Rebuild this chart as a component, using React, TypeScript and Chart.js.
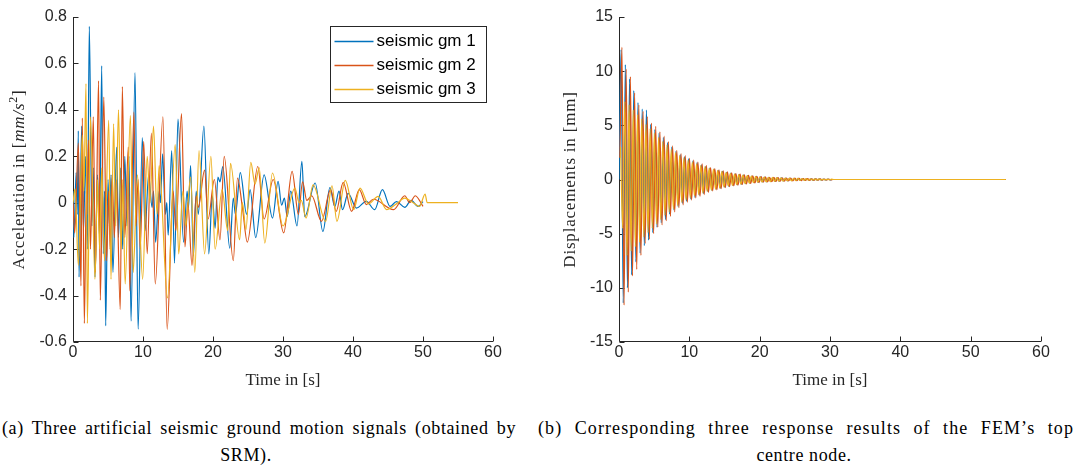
import React, { useEffect, useRef } from 'react';
import { Chart, registerables } from 'chart.js';

Chart.register(...registerables);

// ---------- data ----------
const seriesNames = ['seismic gm 1', 'seismic gm 2', 'seismic gm 3'];
const seriesColors = ['#0072BD', '#D95319', '#EDB120'];

const timeTicks = [0, 10, 20, 30, 40, 50, 60];
const timeTickLabels = ['0', '10', '20', '30', '40', '50', '60'];
const accTicks = [-0.6, -0.4, -0.2, 0, 0.2, 0.4, 0.6, 0.8];
const accTickLabels = ['-0.6', '-0.4', '-0.2', '0', '0.2', '0.4', '0.6', '0.8'];
const dispTicks = [-15, -10, -5, 0, 5, 10, 15];
const dispTickLabels = ['-15', '-10', '-5', '0', '5', '10', '15'];

// ground motion signals [time s, acceleration]
const gm1: [number, number][] = [
  [0, 0.05], [0.12, -0.15], [0.45, 0.13], [0.6, -0.05], [0.76, 0.31], [0.86, -0.32], [1.24, 0.33], [1.5, -0.12],
  [1.8, 0.2], [2.05, -0.2], [2.33, 0.76], [2.7, -0.1], [2.9, 0.15], [3.14, -0.32], [3.5, 0.12], [3.8, -0.15],
  [4.1, 0.59], [4.33, -0.22], [4.5, 0.05], [4.67, -0.53], [5.0, 0.1], [5.2, -0.1], [5.43, 0.12], [5.7, -0.3],
  [6.24, 0.24], [6.5, -0.15], [6.8, 0.15], [7.1, -0.2], [7.4, 0.2], [7.7, -0.1], [8.0, 0.2], [8.29, -0.51],
  [8.86, 0.56], [9.3, -0.545], [9.9, 0.28], [10.3, -0.12], [10.8, 0.12], [11.3, -0.02], [11.5, 0.05], [11.8, -0.17],
  [12.3, 0.05], [12.5, 0.0], [12.8, 0.21], [13.2, -0.05], [13.4, 0.0], [13.6, -0.14], [14.1, 0.225], [14.5, -0.26],
  [15.0, 0.36], [15.8, -0.17], [16.3, 0.05], [16.5, -0.02], [16.8, 0.16], [17.2, -0.23], [17.6, 0.05], [17.9, -0.05],
  [18.7, 0.33], [19.4, -0.22], [19.9, 0.03], [20.3, -0.11], [20.7, 0.11], [21.0, 0.09], [21.4, 0.156], [22.4, -0.196],
  [22.9, 0.02], [23.2, -0.05], [23.9, 0.13], [24.8, -0.05], [25.3, 0.056], [26.1, -0.15], [27.3, 0.12], [28.5, -0.066],
  [29.3, 0.092], [29.8, -0.01], [30.2, 0.02], [30.6, -0.06], [31.1, 0.05], [32.0, -0.1], [32.7, 0.178], [33.1, -0.06],
  [34.6, 0.085], [35.7, -0.124], [36.7, 0.065], [37.4, -0.016], [38.0, 0.05], [38.5, -0.03], [39.3, 0.04], [40.5, -0.023],
  [41.9, 0.006], [43.1, -0.03], [44.2, 0.056], [45.3, -0.016], [46.2, 0.005], [47.4, -0.02], [48.3, 0.01], [49.3, -0.016],
  [50.0, 0.005],
];

const gm2: [number, number][] = [
  [0, 0.0], [0.25, -0.13], [0.76, 0.257], [1.14, -0.358], [1.33, 0.365], [1.62, -0.52], [1.9, 0.05], [2.0, -0.05],
  [2.2, 0.27], [2.5, -0.2], [2.9, 0.37], [3.2, -0.3], [3.65, 0.525], [3.9, -0.42], [4.4, 0.455], [4.8, -0.25],
  [5.1, 0.05], [5.3, -0.2], [5.6, 0.12], [5.9, -0.15], [6.2, 0.1], [6.75, -0.46], [7.05, 0.5], [7.4, -0.15],
  [7.9, 0.24], [8.1, -0.38], [8.7, 0.39], [9.0, -0.1], [9.3, 0.1], [9.6, -0.2], [10.1, 0.264], [10.6, -0.22],
  [11.2, 0.3], [11.75, -0.35], [12.85, 0.37], [13.45, -0.545], [14.3, 0.05], [14.7, -0.12], [15.5, 0.384], [16.0, -0.19],
  [16.4, 0.0], [17.0, -0.27], [17.6, 0.03], [17.9, -0.02], [18.8, 0.14], [19.3, -0.07], [20.2, 0.1], [21.0, -0.16],
  [21.6, 0.2], [22.9, -0.25], [23.5, 0.106], [24.2, -0.02], [24.9, -0.17], [26.4, 0.156], [27.3, -0.07], [28.6, 0.1],
  [30.1, -0.13], [31.3, 0.135], [32.2, -0.05], [32.8, 0.09], [33.4, 0.01], [34.1, 0.03], [35.5, -0.08], [36.8, 0.056],
  [37.6, -0.037], [38.6, 0.088], [39.8, -0.037], [40.9, 0.056], [41.9, -0.008], [42.9, 0.015], [45.8, -0.03], [47.4, 0.03],
  [48.1, 0.0], [48.9, 0.03], [50.0, -0.016],
];

const gm3: [number, number][] = [
  [0, 0.0], [0.3, 0.06], [0.76, -0.27], [1.33, 0.29], [1.55, 0.05], [1.86, 0.513], [2.05, -0.52], [2.5, 0.37],
  [3.14, -0.33], [3.5, 0.1], [3.8, -0.2], [4.1, 0.15], [4.5, -0.25], [5.1, 0.355], [5.43, -0.33], [5.8, 0.34],
  [6.1, -0.1], [6.5, 0.4], [6.9, -0.2], [7.1, 0.1], [7.45, -0.35], [8.2, 0.375], [8.6, -0.3], [9.2, 0.12],
  [9.95, -0.33], [10.6, 0.2], [11.0, 0.0], [11.5, 0.33], [12.0, -0.05], [12.3, 0.16], [13.5, -0.41], [14.6, 0.25],
  [15.1, -0.22], [15.7, 0.05], [16.1, -0.1], [16.8, 0.11], [17.4, -0.3], [18.0, 0.225], [18.8, -0.22], [19.7, 0.2],
  [20.3, -0.2], [21.3, 0.056], [22.1, -0.12], [22.5, 0.17], [23.8, -0.16], [24.2, 0.0], [24.7, -0.117], [25.4, 0.174],
  [26.0, 0.08], [26.6, 0.15], [27.4, -0.174], [28.5, 0.128], [30.0, -0.1], [31.7, 0.063], [32.3, 0.0], [32.6, 0.01],
  [33.3, -0.066], [34.3, 0.077], [36.1, -0.08], [37.0, 0.073], [37.7, -0.08], [38.9, 0.096], [40.1, -0.03], [41.0, 0.063],
  [42.2, -0.005], [43.6, 0.027], [44.8, -0.03], [46.2, -0.005], [47.4, 0.02], [48.6, 0.0], [49.5, -0.016], [50.3, 0.037],
  [50.6, 0.0], [55, 0.0],
];

// top centre node displacement [mm], extremes sampled every dispStep seconds
const dispStep = 0.3;
const dispStart = [0, 0.12, 0.22];
const dispEnd = 55;
const disp1 = [
  0, 12.0, -11.4, 10.6, -10.0, 9.3, -8.8, 8.2, -7.6, 7.1,
  -6.8, 6.5, -6.1, 6.4, -5.6, 5.1, -4.9, 4.6, -4.4, 4.3,
  -4.0, 3.9, -3.7, 3.4, -3.2, 3.0, -2.8, 2.6, -2.5, 2.3,
  -2.2, 2.1, -2.0, 1.9, -1.8, 1.7, -1.65, 1.55, -1.45, 1.35,
  -1.3, 1.2, -1.1, 1.05, -1.0, 0.95, -0.9, 0.85, -0.8, 0.75,
  -0.7, 0.65, -0.62, 0.58, -0.55, 0.52, -0.48, 0.46, -0.43, 0.4,
  -0.38, 0.36, -0.34, 0.32, -0.3, 0.28, -0.26, 0.25, -0.23, 0.22,
  -0.21, 0.2, -0.19, 0.18, -0.17, 0.16, -0.15, 0.15, -0.14, 0.13,
  -0.12, 0.12, -0.11, 0.11, -0.1, 0.1, -0.09, 0.09, -0.08, 0.08,
  -0.075, 0.07, -0.065, 0.06, -0.055, 0.05, -0.05, 0.045, -0.04, 0.04, -0.035,
];
const disp2 = [
  2.0, 12.2, -11.6, 10.2, -10.4, 9.5, -8.9, 8.0, -8.3, 6.9,
  -7.0, 6.3, -5.9, 5.8, -5.5, 5.2, -5.0, 4.9, -4.4, 4.4,
  -4.2, 4.0, -3.8, 3.5, -3.4, 3.1, -3.0, 2.7, -2.6, 2.4,
  -2.35, 2.2, -2.1, 1.95, -1.9, 1.8, -1.7, 1.6, -1.55, 1.45,
  -1.4, 1.3, -1.2, 1.1, -1.05, 1.0, -0.95, 0.9, -0.85, 0.8,
  -0.75, 0.7, -0.66, 0.62, -0.58, 0.55, -0.52, 0.49, -0.46, 0.43,
  -0.4, 0.38, -0.36, 0.34, -0.32, 0.3, -0.28, 0.27, -0.25, 0.24,
  -0.22, 0.21, -0.2, 0.19, -0.18, 0.17, -0.16, 0.16, -0.15, 0.14,
  -0.13, 0.13, -0.12, 0.12, -0.11, 0.1, -0.1, 0.09, -0.09, 0.08,
  -0.08, 0.07, -0.07, 0.06, -0.06, 0.055, -0.05, 0.045, -0.04, 0.04, -0.035,
];
const disp3 = [
  3.0, -4.5, 7.2, -7.0, 6.9, -6.6, 6.4, -6.2, 6.0, -5.8,
  5.6, -5.3, 5.1, -4.9, 4.7, -4.5, 4.3, -4.1, 3.9, -3.7,
  3.5, -3.3, 3.2, -3.0, 2.8, -2.7, 2.5, -2.4, 2.2, -2.1,
  2.0, -1.9, 1.8, -1.7, 1.6, -1.5, 1.45, -1.4, 1.3, -1.25,
  1.2, -1.1, 1.05, -1.0, 0.95, -0.9, 0.85, -0.8, 0.75, -0.7,
  0.65, -0.6, 0.57, -0.54, 0.5, -0.48, 0.45, -0.43, 0.4, -0.38,
  0.36, -0.34, 0.32, -0.3, 0.28, -0.27, 0.25, -0.24, 0.23, -0.22,
  0.21, -0.2, 0.19, -0.18, 0.17, -0.16, 0.15, -0.15, 0.14, -0.13,
  0.12, -0.12, 0.11, -0.1, 0.1, -0.09, 0.09, -0.08, 0.08, -0.07,
  0.07, -0.06, 0.06, -0.055, 0.05, -0.045, 0.04, -0.04, 0.035, -0.03, 0.03,
];

// ---------- styling ----------
const SANS = '"Liberation Sans", Arial, Helvetica, sans-serif';
const SERIF = '"Liberation Serif", "Times New Roman", serif';
const AXIS_COLOR = '#262626';

const pairsToPoints = (pairs: [number, number][]) => pairs.map(([x, y]) => ({ x, y }));
const dispToPoints = (vals: number[], start: number) => {
  const pts = vals.map((v, i) => ({ x: start + i * dispStep, y: v }));
  pts.push({ x: start + vals.length * dispStep, y: 0 });
  pts.push({ x: dispEnd, y: 0 });
  return pts;
};

const axesPlugin = {
  id: 'matlabAxes',
  beforeDatasetsDraw(chart: any) {
    const { ctx, chartArea: a, scales } = chart;
    ctx.save();
    ctx.strokeStyle = AXIS_COLOR;
    ctx.lineWidth = 1;
    const L = Math.round(a.left) + 0.5;
    const B = Math.round(a.bottom) - 0.5;
    ctx.beginPath();
    ctx.moveTo(L, a.top);
    ctx.lineTo(L, B);
    ctx.lineTo(a.right, B);
    scales.x.ticks.forEach((t: any) => {
      const px = Math.round(scales.x.getPixelForValue(t.value)) + 0.5;
      ctx.moveTo(px, B);
      ctx.lineTo(px, B - 5);
    });
    scales.y.ticks.forEach((t: any) => {
      const py = Math.round(scales.y.getPixelForValue(t.value)) + 0.5;
      ctx.moveTo(L, py);
      ctx.lineTo(L + 5, py);
    });
    ctx.stroke();
    ctx.restore();
  },
};

const yTitlePlugin = {
  id: 'yTitle',
  afterDraw(chart: any, _args: any, opts: any) {
    if (!opts || !opts.parts) return;
    const { ctx, chartArea: a } = chart;
    ctx.save();
    ctx.fillStyle = AXIS_COLOR;
    ctx.textBaseline = 'middle';
    ctx.textAlign = 'left';
    try { (ctx as any).letterSpacing = opts.spacing || '0px'; } catch (e) { /* ignore */ }
    let total = 0;
    const widths = opts.parts.map((p: any) => {
      ctx.font = p.font;
      const w = ctx.measureText(p.text).width;
      total += w;
      return w;
    });
    ctx.translate(opts.x, (a.top + a.bottom) / 2);
    ctx.rotate(-Math.PI / 2);
    let cx = -total / 2;
    opts.parts.forEach((p: any, i: number) => {
      ctx.font = p.font;
      ctx.fillText(p.text, cx, p.dy || 0);
      cx += widths[i];
    });
    ctx.restore();
  },
};

const legendPlugin = {
  id: 'seriesLegend',
  afterDatasetsDraw(chart: any, _args: any, opts: any) {
    if (!opts || !opts.show) return;
    const { ctx, chartArea: a } = chart;
    const w = 156, h = 76;
    const x0 = Math.round(a.right - 7 - w) + 0.5;
    const y0 = Math.round(a.top + 9) + 0.5;
    ctx.save();
    ctx.fillStyle = '#ffffff';
    ctx.fillRect(x0, y0, w, h);
    ctx.strokeStyle = AXIS_COLOR;
    ctx.lineWidth = 1;
    ctx.strokeRect(x0, y0, w, h);
    ctx.font = `17px ${SANS}`;
    ctx.textBaseline = 'middle';
    ctx.textAlign = 'left';
    seriesNames.forEach((name, i) => {
      const y = y0 + 15 + i * 24;
      ctx.strokeStyle = seriesColors[i];
      ctx.lineWidth = 1.3;
      ctx.beginPath();
      ctx.moveTo(x0 + 4, y);
      ctx.lineTo(x0 + 43, y);
      ctx.stroke();
      ctx.fillStyle = '#000000';
      ctx.fillText(name, x0 + 46, y);
    });
    ctx.restore();
  },
};

function buildChart(canvas: HTMLCanvasElement, cfg: any) {
  return new Chart(canvas, {
    type: 'line',
    data: { datasets: cfg.datasets },
    options: {
      responsive: false,
      animation: false,
      devicePixelRatio: 1,
      events: [],
      layout: { padding: { top: 17, right: cfg.padRight, bottom: 0, left: 0 } },
      elements: {
        point: { radius: 0 },
        line: { borderWidth: 1.2, cubicInterpolationMode: 'monotone' },
      },
      plugins: {
        legend: { display: false },
        tooltip: { enabled: false },
        yTitle: cfg.yTitle,
        seriesLegend: { show: cfg.legend },
      } as any,
      scales: {
        x: {
          type: 'linear',
          min: 0,
          max: 60,
          afterFit: (s: any) => { s.height = 58; },
          afterBuildTicks: (s: any) => { s.ticks = timeTicks.map((v) => ({ value: v })); },
          grid: { display: false, drawTicks: false },
          border: { display: false },
          ticks: {
            padding: 1,
            autoSkip: false,
            maxRotation: 0,
            color: AXIS_COLOR,
            font: { family: SANS, size: 16 },
            callback: (_v: any, i: number) => timeTickLabels[i],
          },
          title: {
            display: true,
            text: 'Time in [s]',
            color: AXIS_COLOR,
            font: { family: SERIF, size: 17 },
            padding: { top: 0, bottom: 9 },
          },
        },
        y: {
          type: 'linear',
          min: cfg.yMin,
          max: cfg.yMax,
          afterFit: (s: any) => { s.width = 73; },
          afterBuildTicks: (s: any) => { s.ticks = cfg.yTicks.map((v: number) => ({ value: v })); },
          grid: { display: false, drawTicks: false },
          border: { display: false },
          ticks: {
            padding: 6,
            autoSkip: false,
            color: AXIS_COLOR,
            font: { family: SANS, size: 16 },
            callback: (_v: any, i: number) => cfg.yLabels[i],
          },
        },
      } as any,
    },
    plugins: [axesPlugin, yTitlePlugin, legendPlugin],
  } as any);
}

const datasetStyle = (i: number) => ({
  label: seriesNames[i],
  borderColor: seriesColors[i],
  backgroundColor: seriesColors[i],
  fill: false,
  order: 3 - i,
});

const captionBase: React.CSSProperties = {
  position: 'absolute',
  fontFamily: SERIF,
  fontSize: 18,
  lineHeight: '20px',
  color: '#000',
  whiteSpace: 'nowrap',
};
const captionJustified: React.CSSProperties = {
  ...captionBase,
  whiteSpace: 'normal',
  textAlign: 'justify',
  textAlignLast: 'justify' as any,
};
const captionCentered: React.CSSProperties = {
  ...captionBase,
  letterSpacing: '0.6px',
  transform: 'translateX(-50%)',
};

export default function App() {
  const leftRef = useRef<HTMLCanvasElement>(null);
  const rightRef = useRef<HTMLCanvasElement>(null);

  useEffect(() => {
    const left = buildChart(leftRef.current!, {
      padRight: 47,
      yMin: -0.6,
      yMax: 0.8,
      yTicks: accTicks,
      yLabels: accTickLabels,
      legend: true,
      yTitle: {
        x: 20,
        spacing: '0.8px',
        parts: [
          { text: 'Acceleration in [', font: `17px ${SERIF}` },
          { text: 'mm/s', font: `italic 17px ${SERIF}` },
          { text: '2', font: `12px ${SERIF}`, dy: -6 },
          { text: ']', font: `17px ${SERIF}` },
        ],
      },
      datasets: [
        { ...datasetStyle(0), data: pairsToPoints(gm1) },
        { ...datasetStyle(1), data: pairsToPoints(gm2) },
        { ...datasetStyle(2), data: pairsToPoints(gm3) },
      ],
    });
    const right = buildChart(rightRef.current!, {
      padRight: 36,
      yMin: -15,
      yMax: 15,
      yTicks: dispTicks,
      yLabels: dispTickLabels,
      legend: false,
      yTitle: {
        x: 25,
        spacing: '0.8px',
        parts: [{ text: 'Displacements in [mm]', font: `17px ${SERIF}` }],
      },
      datasets: [
        { ...datasetStyle(0), data: dispToPoints(disp1, dispStart[0]) },
        { ...datasetStyle(1), data: dispToPoints(disp2, dispStart[1]) },
        { ...datasetStyle(2), data: dispToPoints(disp3, dispStart[2]) },
      ],
    });
    return () => {
      left.destroy();
      right.destroy();
    };
  }, []);

  return (
    <div style={{ position: 'fixed', left: 0, top: 0, width: 1077, height: 471, background: '#fff', overflow: 'hidden' }}>
      <canvas ref={leftRef} width={540} height={400} style={{ position: 'absolute', left: 0, top: 0 }} />
      <canvas ref={rightRef} width={531} height={400} style={{ position: 'absolute', left: 546, top: 0 }} />
      <div style={{ ...captionJustified, letterSpacing: '0.6px', left: 2, top: 418, width: 514 }}>
        (a) Three artificial seismic ground motion signals (obtained by
      </div>
      <div style={{ ...captionCentered, left: 246, top: 445 }}>SRM).</div>
      <div style={{ ...captionJustified, letterSpacing: '1.1px', left: 538, top: 418, width: 536 }}>
        (b) Corresponding three response results of the FEM’s top
      </div>
      <div style={{ ...captionCentered, left: 804, top: 445 }}>centre node.</div>
    </div>
  );
}
